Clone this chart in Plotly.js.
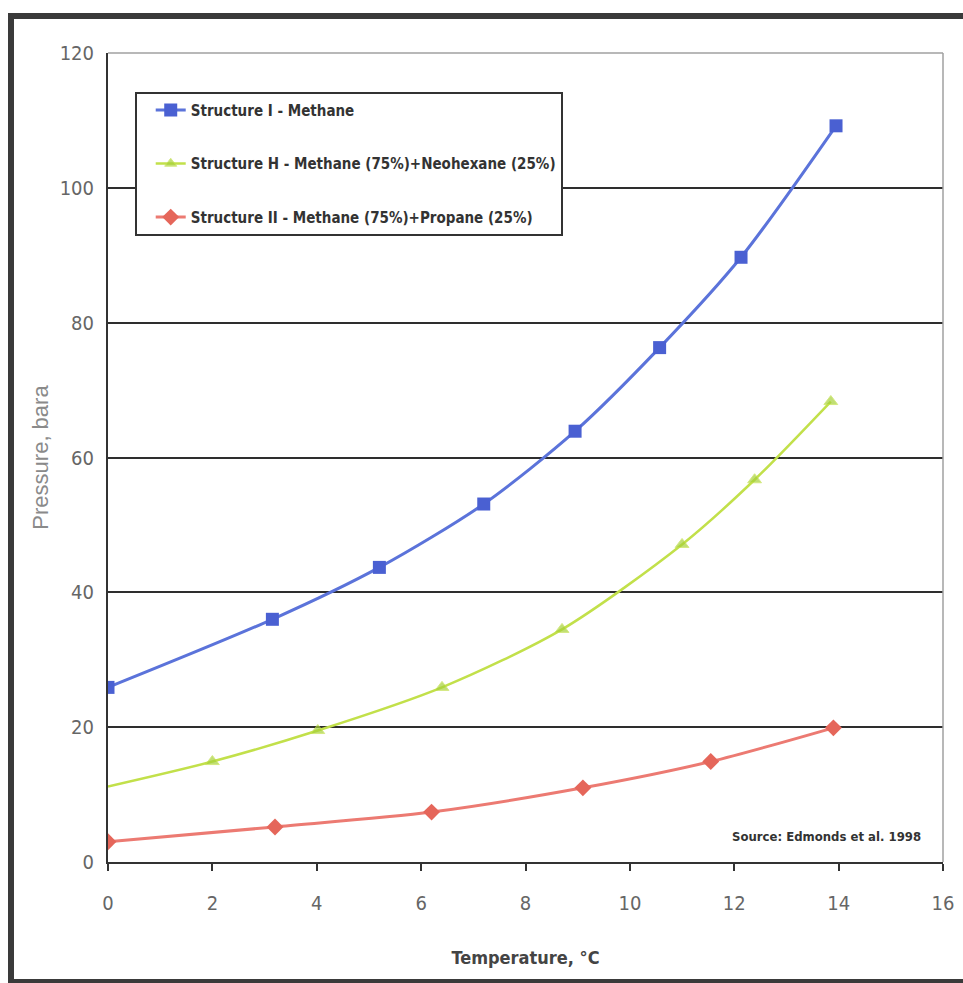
<!DOCTYPE html>
<html>
<head>
<meta charset="utf-8">
<script src="https://cdn.plot.ly/plotly-3.0.1.min.js"></script>
<style>
  html, body { margin: 0; padding: 0; background: #ffffff; }
  #wrap { position: relative; width: 963px; height: 983px; }
  #chart { position: absolute; left: 0; top: 0; width: 963px; height: 983px; }
  #frame { position: absolute; left: 8px; top: 13px; width: 950px; height: 960px;
           border-left: 6px solid #3a3a3a; border-top: 6px solid #3a3a3a;
           border-bottom: 5px solid #3a3a3a; border-right: 2px solid #6a6a6a;
           pointer-events: none; }
</style>
</head>
<body>
<div id="wrap">
  <div id="chart"></div>
  <div id="frame"></div>
</div>
<script>
// Temperature (°C) and pressure (bara)
const sI_T = [0, 3.15, 5.2, 7.2, 8.95, 10.57, 12.13, 13.95];
const sI_P = [25.9, 36.0, 43.7, 53.1, 63.9, 76.3, 89.7, 109.2];

const sH_T = [0, 2.0, 4.02, 6.4, 8.7, 11.0, 12.39, 13.85];
const sH_P = [11.2, 14.9, 19.5, 25.9, 34.5, 47.1, 56.7, 68.3];

const sII_T = [0, 3.2, 6.2, 9.1, 11.55, 13.9];
const sII_P = [3.0, 5.2, 7.4, 11.0, 14.9, 19.9];

const names = [
  "Structure I - Methane",
  "Structure H - Methane (75%)+Neohexane (25%)",
  "Structure II - Methane (75%)+Propane (25%)"
];

const xTicks = [0, 2, 4, 6, 8, 10, 12, 14, 16];
const yTicks = [0, 20, 40, 60, 80, 100, 120];
const sourceText = "Source: Edmonds et al. 1998";

const narrow = "'DejaVu Sans Condensed', 'Liberation Sans Narrow', 'DejaVu Sans', sans-serif";

const traces = [
  {
    x: sI_T, y: sI_P, name: names[0], legendgroup: "a",
    mode: "lines+markers",
    line: { color: "#5b73da", width: 3, shape: "spline", smoothing: 0.8 },
    marker: { symbol: "square", size: 13, color: "#4a60d2" }
  },
  {
    x: sH_T, y: sH_P, name: names[1], legendgroup: "b",
    mode: "lines+markers",
    line: { color: "#c2e04a", width: 2.5, shape: "spline", smoothing: 0.8 },
    marker: { symbol: "triangle-up", size: [0, 12, 12, 12, 12, 12, 12, 12], color: "#a6d13a" }
  },
  {
    x: sII_T, y: sII_P, name: names[2], legendgroup: "c",
    mode: "lines+markers",
    line: { color: "#ec7a72", width: 3, shape: "spline", smoothing: 0.8 },
    marker: { symbol: "diamond", size: 13, color: "#e5665a" }
  }
];

const layout = {
  width: 963, height: 983,
  paper_bgcolor: "#ffffff", plot_bgcolor: "#ffffff",
  margin: { l: 108, r: 20, t: 53, b: 121, pad: 0 },
  showlegend: true,
  legend: {
    x: 0.032, y: 0.952, xanchor: "left", yanchor: "top",
    bgcolor: "#ffffff", bordercolor: "#333333", borderwidth: 2,
    font: { family: narrow, size: 15, color: "#333333", weight: "bold", stretch: "condensed" },
    tracegroupgap: 31, traceorder: "grouped", indentation: 14
  },
  xaxis: {
    range: [0, 16], tickvals: xTicks, ticktext: xTicks.map(String),
    showgrid: false, zeroline: false,
    showline: true, linecolor: "#333333", linewidth: 2,
    ticks: "outside", ticklen: 7, tickwidth: 2, tickcolor: "#333333",
    ticklabelstandoff: 15,
    tickfont: { family: narrow, size: 20, color: "#666666", stretch: "condensed" },
    title: { text: "Temperature, °C", standoff: 37,
             font: { family: narrow, size: 18, color: "#444444", weight: "bold", stretch: "condensed" } },
    automargin: false
  },
  yaxis: {
    range: [0, 120], tickvals: yTicks, ticktext: yTicks.map(String),
    showgrid: true, gridcolor: "#2e2e2e", gridwidth: 2,
    zeroline: false,
    showline: true, linecolor: "#333333", linewidth: 2,
    ticks: "", ticklabelstandoff: 8,
    tickfont: { family: narrow, size: 20, color: "#666666", stretch: "condensed" },
    title: { text: "Pressure, bara", standoff: 5,
             font: { family: "'Liberation Sans', Arial, sans-serif", size: 22, color: "#8a8a8a" } },
    automargin: false
  },
  shapes: [
    { type: "line", xref: "paper", yref: "paper", x0: 0, x1: 1, y0: 1, y1: 1,
      line: { color: "#a0a0a0", width: 1.5 } },
    { type: "line", xref: "paper", yref: "paper", x0: 1, x1: 1, y0: 0, y1: 1,
      line: { color: "#a0a0a0", width: 1.5 } }
  ],
  annotations: [
    { text: sourceText, xref: "paper", yref: "paper", x: 0.976, y: 0.031,
      xanchor: "right", yanchor: "middle", showarrow: false,
      font: { family: narrow, size: 13, color: "#333333", weight: "bold", stretch: "condensed" } }
  ]
};

Plotly.newPlot("chart", traces, layout, { displayModeBar: false, staticPlot: true });
</script>
</body>
</html>
